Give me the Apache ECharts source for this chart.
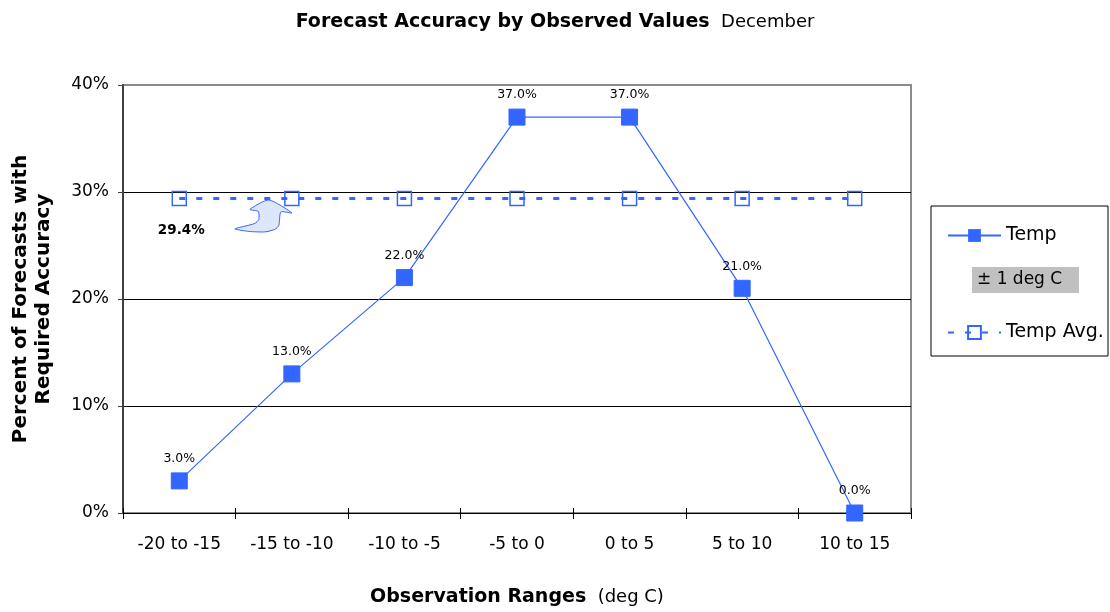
<!DOCTYPE html>
<html>
<head>
<meta charset="utf-8">
<script src="https://cdn.jsdelivr.net/npm/echarts@6/dist/echarts.min.js"></script>
<style>
html,body{margin:0;padding:0;background:#fff;}
#chart{width:1110px;height:612px;}
</style>
</head>
<body>
<div id="chart"></div>
<script>
var categories = ['-20 to -15', '-15 to -10', '-10 to -5', '-5 to 0', '0 to 5', '5 to 10', '10 to 15'];
var tempValues = [3.0, 13.0, 22.0, 37.0, 37.0, 21.0, 0.0];
var avgValues = [29.4, 29.4, 29.4, 29.4, 29.4, 29.4, 29.4];
var avgLabel = '29.4%';
var yTicks = [0, 10, 20, 30, 40];

var FONT = '"DejaVu Sans", "Liberation Sans", Arial, sans-serif';
var BLUE = '#3366ff';

var chart = echarts.init(document.getElementById('chart'), null, {renderer: 'canvas'});

var option = {
  backgroundColor: '#fff',
  animation: false,
  textStyle: {fontFamily: FONT},
  title: {
    text: '{b|Forecast Accuracy by Observed Values}{n|  December}',
    left: 'center',
    top: 8,
    textStyle: {
      rich: {
        b: {fontFamily: FONT, fontSize: 19, fontWeight: 'bold', color: '#000'},
        n: {fontFamily: FONT, fontSize: 18, fontWeight: 'normal', color: '#000'}
      }
    }
  },
  grid: {
    left: 123, right: 199, top: 85, bottom: 99,
    show: true, borderColor: '#8c8c8c', borderWidth: 2, backgroundColor: 'transparent',
    containLabel: false
  },
  legend: {
    orient: 'vertical',
    left: 942,
    top: 221,
    itemWidth: 53,
    itemHeight: 16,
    itemGap: 78,
    textStyle: {fontFamily: FONT, fontSize: 19, color: '#000'},
    data: ['Temp', 'Temp Avg.']
  },
  xAxis: [{
    type: 'category',
    data: categories,
    boundaryGap: true,
    axisLine: {lineStyle: {color: '#000', width: 1}},
    axisTick: {show: true, inside: false, length: 6, lineStyle: {color: '#000'}},
    axisLabel: {fontFamily: FONT, fontSize: 17, color: '#000', margin: 23},
    name: '{b|Observation Ranges}{n|  (deg C)}',
    nameLocation: 'middle',
    nameGap: 75,
    nameTextStyle: {
      verticalAlign: 'top',
      rich: {
        b: {fontFamily: FONT, fontSize: 19, fontWeight: 'bold', color: '#000'},
        n: {fontFamily: FONT, fontSize: 18, fontWeight: 'normal', color: '#000'}
      }
    },
    splitLine: {show: false}
  }, {
    type: 'category',
    data: categories,
    position: 'bottom',
    boundaryGap: true,
    axisLine: {show: false},
    axisTick: {show: true, inside: true, length: 5, lineStyle: {color: '#000'}},
    axisLabel: {show: false},
    splitLine: {show: false}
  }],
  yAxis: {
    type: 'value',
    min: yTicks[0],
    max: yTicks[yTicks.length - 1],
    interval: 10,
    axisLine: {show: true, lineStyle: {color: '#404040', width: 2}},
    axisTick: {show: true, length: 5, lineStyle: {color: '#404040'}},
    axisLabel: {fontFamily: FONT, fontSize: 17, color: '#000', margin: 14, formatter: function (v) { return v + '%'; }},
    splitLine: {show: true, lineStyle: {color: ['#000', '#000', '#000', '#000', '#8c8c8c'], width: 1}},
    name: 'Percent of Forecasts with\nRequired Accuracy',
    nameLocation: 'middle',
    nameGap: 68,
    nameTextStyle: {fontFamily: FONT, fontSize: 20, fontWeight: 'bold', color: '#000', lineHeight: 23}
  },
  series: [{
    name: 'Temp Avg.',
    type: 'line',
    data: avgValues,
    symbol: 'rect',
    symbolSize: 14,
    lineStyle: {color: BLUE, width: 3, type: [6, 11]},
    itemStyle: {color: 'rgba(255,255,255,0)', borderColor: BLUE, borderWidth: 1.5},
    z: 2
  }, {
    name: 'Temp',
    type: 'line',
    data: tempValues,
    symbol: 'rect',
    symbolSize: 16,
    lineStyle: {color: BLUE, width: 1.2},
    itemStyle: {color: BLUE, borderColor: BLUE},
    label: {
      show: true, position: 'top', distance: 7,
      fontFamily: FONT, fontSize: 12.5, color: '#000',
      formatter: function (p) { return p.value.toFixed(1) + '%'; }
    },
    z: 3
  }]
};
chart.setOption(option);

// annotation arrow + legend box, anchored on the chart's own scale
var tipAnchor = chart.convertToPixel({xAxisIndex: 0, yAxisIndex: 0}, [1, avgValues[1]]);
var labAnchor = chart.convertToPixel({xAxisIndex: 0, yAxisIndex: 0}, [0, avgValues[0]]);
var ax = tipAnchor[0], ay = tipAnchor[1];
var rel = [[-23, 1.5], [0, 14.5], [-11, 13.5], [-13, 27], [-17, 31], [-27, 33.5], [-43, 33], [-57, 30.5],
           [-48, 28], [-37, 25], [-33, 21], [-33.5, 13], [-42, 11]];
var pts = rel.map(function (r) { return [ax + r[0], ay + r[1]]; });

chart.setOption({
  graphic: [
    {
      type: 'polygon',
      shape: {points: pts, smooth: 0.2},
      style: {fill: '#dde6fb', stroke: BLUE, lineWidth: 1},
      z: 10
    },
    {
      type: 'text',
      x: labAnchor[0] + 2, y: labAnchor[1] + 32,
      style: {text: avgLabel, font: 'bold 13.5px ' + FONT, fill: '#000', align: 'center', verticalAlign: 'middle'},
      z: 10
    },
    {
      type: 'rect',
      shape: {x: 931, y: 206, width: 177, height: 150},
      style: {fill: 'none', stroke: '#000', lineWidth: 1},
      z: 1
    },
    {
      type: 'rect',
      shape: {x: 972, y: 267, width: 107, height: 26},
      style: {fill: '#c0c0c0'},
      z: 1
    },
    {
      type: 'text',
      x: 977, y: 280,
      style: {text: '± 1 deg C', font: '17px ' + FONT, fill: '#000', verticalAlign: 'middle'},
      z: 2
    }
  ]
});
</script>
</body>
</html>
